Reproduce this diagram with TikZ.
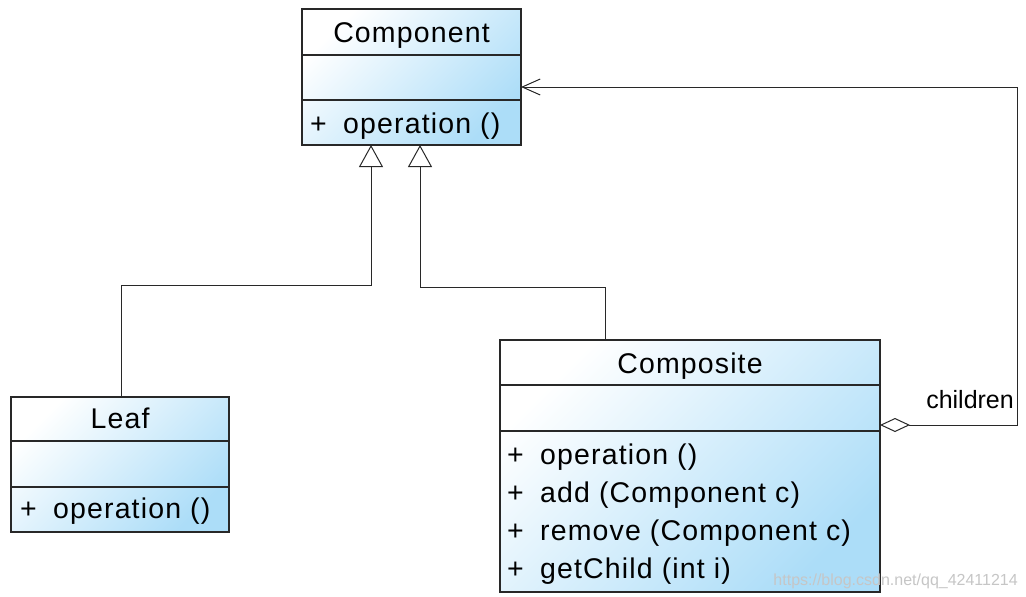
\documentclass[tikz,border=0pt]{standalone}
\usepackage{fontspec}
\usetikzlibrary{arrows.meta,calc}
\newfontfamily\umlfont[LetterSpace=4]{Liberation Sans}
\newfontfamily\plainfont{Liberation Sans}
\definecolor{uml}{RGB}{172,221,248}
\definecolor{linec}{RGB}{40,40,40}
\begin{document}
\begin{tikzpicture}[x=1pt,y=-1pt,
  cls/.style={draw=linec, line width=1.2pt, rectangle, inner sep=0pt, outer sep=0pt,
    top color=white, bottom color=uml, shading angle=45, anchor=north west},
  divider/.style={draw=linec, line width=1.2pt},
  title/.style={anchor=base, inner sep=0pt, font=\umlfont\fontsize{28.5}{32}\selectfont},
  meth/.style={anchor=base west, inner sep=0pt, font=\umlfont\fontsize{28.5}{32}\selectfont},
  conn/.style={draw=linec, line width=1pt},
  gen/.style={conn, -{Triangle[open, length=22pt, width=24pt, line width=1pt]}},
  agg/.style={conn, {Diamond[open, length=30pt, width=14pt, line width=1pt]}-{Straight Barb[length=18pt, width=16pt, line width=1pt]}},
  lbl/.style={inner sep=0pt, font=\plainfont\fontsize{25}{30}\selectfont}]
\useasboundingbox (0,0) rectangle (1026,597);
\fill[white] (0,0) rectangle (1026,597);

% Component
\node[cls, minimum width=219pt, minimum height=136pt] (comp) at (302,9) {};
\draw[divider] ($(comp.north west)+(0,46)$) -- ($(comp.north east)+(0,46)$);
\draw[divider] ($(comp.north west)+(0,91)$) -- ($(comp.north east)+(0,91)$);
\node[title] (compname) at ($(comp.north)+(0,33)$) {Component};
\node[meth] (compop) at ($(comp.north west)+(8,124)$) {\makebox[33pt][l]{+}operation ()};

% Leaf
\node[cls, minimum width=218pt, minimum height=135pt] (leaf) at (11,397) {};
\draw[divider] ($(leaf.north west)+(0,44)$) -- ($(leaf.north east)+(0,44)$);
\draw[divider] ($(leaf.north west)+(0,90)$) -- ($(leaf.north east)+(0,90)$);
\node[title] (leafname) at ($(leaf.north)+(0,31)$) {Leaf};
\node[meth] (leafop) at ($(leaf.north west)+(9,121)$) {\makebox[33pt][l]{+}operation ()};

% Composite
\node[cls, minimum width=380pt, minimum height=252pt] (compo) at (500,340) {};
\draw[divider] ($(compo.north west)+(0,45)$) -- ($(compo.north east)+(0,45)$);
\draw[divider] ($(compo.north west)+(0,91)$) -- ($(compo.north east)+(0,91)$);
\node[title] (componame) at ($(compo.north)+(0,33)$) {Composite};
\node[meth] (compoop1) at ($(compo.north west)+(7,124)$) {\makebox[33pt][l]{+}operation ()};
\node[meth] (compoop2) at ($(compo.north west)+(7,162)$) {\makebox[33pt][l]{+}add (Component c)};
\node[meth] (compoop3) at ($(compo.north west)+(7,200)$) {\makebox[33pt][l]{+}remove (Component c)};
\node[meth] (compoop4) at ($(compo.north west)+(7,238)$) {\makebox[33pt][l]{+}getChild (int i)};

% Generalisations
\coordinate (leaftop) at ($(leaf.north west)+(110,0)$);
\coordinate (leafhit) at ($(comp.south west)+(69,0)$);
\draw[gen] (leaftop) -- ($(leaftop)+(0,-112)$) -| (leafhit);
\coordinate (compotop) at ($(compo.north west)+(105,0)$);
\coordinate (compohit) at ($(comp.south west)+(118,0)$);
\draw[gen] (compotop) -- ($(compotop)+(0,-53)$) -| (compohit);

% Aggregation
\coordinate (aggstart) at ($(compo.north east)+(0,85)$);
\coordinate (aggend) at ($(comp.north east)+(0,78)$);
\coordinate (aggcorner) at (1017,425);
\draw[agg] (aggstart) -- (aggcorner) |- (aggend);
\node[lbl, anchor=base east] (children) at ($(aggcorner)+(-3,-17)$) {children};

% watermark
\node[anchor=base east, inner sep=0pt, text=gray!45, font=\plainfont\fontsize{16}{18}\selectfont] (wm) at (1018,585) {https://blog.csdn.net/qq\_42411214};
\end{tikzpicture}
\end{document}
